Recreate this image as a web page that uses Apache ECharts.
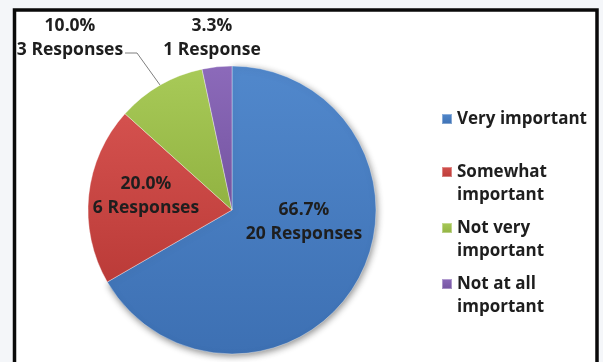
<!DOCTYPE html>
<html>
<head>
<meta charset="utf-8">
<script src="https://cdn.jsdelivr.net/npm/echarts@6/dist/echarts.min.js"></script>
<style>
  html, body { margin: 0; padding: 0; background: #f4f6f9; }
  #chart { width: 603px; height: 362px; }
</style>
</head>
<body>
<div id="chart"></div>
<script>
// Survey answers: how important is it?
const categories = ['Very important', 'Somewhat important', 'Not very important', 'Not at all important'];
const responses = [20, 6, 3, 1];
// Legend captions, wrapped the way they are shown
const legendCaptions = ['Very important', 'Somewhat\nimportant', 'Not very\nimportant', 'Not at all\nimportant'];

// Slice colours (top / bottom of a soft vertical gradient)
const sliceColors = [
  ['#5188cc', '#3d70b3'],
  ['#d4514e', '#bb3b38'],
  ['#a8ca58', '#91b241'],
  ['#8c6aba', '#73539f']
];
// Where each slice's caption sits
const labelSpots = [[304, 222], [146, 196], [70, 38], [212, 38]];
// First-line centre of each legend entry
const legendRows = [119, 172, 228, 284];

const FONT = '"Open Sans", "DejaVu Sans", sans-serif';
const INK = '#1e1e1e';
const LINE = 23;

function gradient(pair) {
  return new echarts.graphic.LinearGradient(0, 0, 0, 1, [
    { offset: 0, color: pair[0] },
    { offset: 1, color: pair[1] }
  ]);
}

const pieData = categories.map((name, i) => {
  const inside = i < 2;
  const item = {
    name: name,
    value: responses[i],
    itemStyle: { color: gradient(sliceColors[i]) },
    label: { position: inside ? 'inside' : 'outside' },
    labelLine: { show: i === 2, lineStyle: { color: '#7f7f7f', width: 1 } }
  };
  if (i === 0) {
    item.itemStyle.shadowBlur = 7;
    item.itemStyle.shadowOffsetX = 1;
    item.itemStyle.shadowOffsetY = 2;
    item.itemStyle.shadowColor = 'rgba(0,0,0,0.45)';
  }
  return item;
});

// The marker is centred on the caption block, so two-line captions get an
// empty first line: the marker then lines up with the first visible line.
const legends = categories.map((name, i) => {
  const multi = legendCaptions[i].indexOf('\n') >= 0;
  const caption = multi ? '\n' + legendCaptions[i] : legendCaptions[i];
  const top = multi ? legendRows[i] - LINE * 1.5 : legendRows[i] - LINE / 2;
  return {
    data: [name],
    orient: 'vertical',
    left: 441,
    top: top,
    padding: 0,
    icon: 'rect',
    itemWidth: 10,
    itemHeight: 10,
    selectedMode: false,
    formatter: () => caption,
    textStyle: {
      fontFamily: FONT,
      fontWeight: 'bold',
      fontSize: 17,
      lineHeight: LINE,
      color: INK
    }
  };
});

const chart = echarts.init(document.getElementById('chart'), null, { renderer: 'canvas' });
chart.setOption({
  animation: false,
  backgroundColor: '#f4f6f9',
  graphic: [{
    type: 'rect',
    z: -10,
    shape: { x: 14.5, y: 10, width: 582.5, height: 420 },
    style: { fill: '#ffffff', stroke: '#0a0a0a', lineWidth: 3.5 }
  }],
  legend: legends,
  series: [{
    type: 'pie',
    center: [232, 210],
    radius: 144,
    startAngle: 90,
    clockwise: true,
    avoidLabelOverlap: false,
    itemStyle: { borderColor: 'rgba(255,255,255,0.35)', borderWidth: 1 },
    label: {
      show: true,
      fontFamily: FONT,
      fontWeight: 'bold',
      fontSize: 17.5,
      lineHeight: 24,
      color: INK,
      align: 'center',
      formatter: p => p.percent.toFixed(1) + '%\n' + p.value + (p.value === 1 ? ' Response' : ' Responses')
    },
    labelLayout: p => {
      const s = labelSpots[p.dataIndex];
      const out = { x: s[0], y: s[1], align: 'center', verticalAlign: 'middle' };
      if (p.dataIndex === 2) {
        out.labelLinePoints = [[160, 85], [137, 53], [125, 53]];
      }
      return out;
    },
    emphasis: { disabled: true },
    data: pieData
  }]
});
</script>
</body>
</html>
